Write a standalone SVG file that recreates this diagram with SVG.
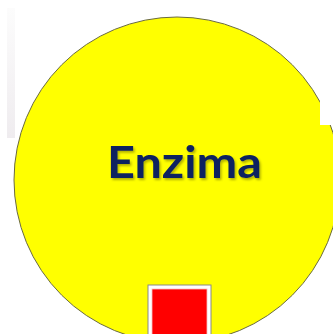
<svg xmlns="http://www.w3.org/2000/svg" width="333" height="334" viewBox="0 0 333 334">
<defs>
<style>
.lbl{font-family:"Lato","Liberation Sans",sans-serif;font-weight:bold;font-size:44px;fill:#0b2161}
</style>
<filter id="sh" x="-10%" y="-20%" width="130%" height="150%">
<feDropShadow dx="1.5" dy="2" stdDeviation="1.2" flood-color="#000" flood-opacity="0.3"/>
</filter>
<linearGradient id="strip" x1="0" y1="0" x2="0" y2="1">
<stop offset="0" stop-color="#fcfcfc"/>
<stop offset="1" stop-color="#efecef"/>
</linearGradient>
</defs>
<rect width="333" height="334" fill="#fff"/>
<rect x="7" y="8" width="8" height="130" fill="url(#strip)"/>
<g id="enzima">
<circle cx="177" cy="180" r="163" fill="#ffff00" stroke="#6a6a40" stroke-width="1"/>
<rect x="320" y="0" width="13" height="125" fill="#fff"/>
<text class="lbl" x="184.5" y="178" text-anchor="middle" textLength="155" lengthAdjust="spacingAndGlyphs" filter="url(#sh)">Enzima</text>
</g>
<g id="sustrato">
<rect x="148" y="285" width="63" height="55" fill="#fff" stroke="#8a8a8a" stroke-width="1"/>
<rect x="152" y="289" width="55" height="50" fill="#ff0000" stroke="#f4c0c0" stroke-width="0.8"/>
</g>
<g id="connectors"></g>
</svg>
